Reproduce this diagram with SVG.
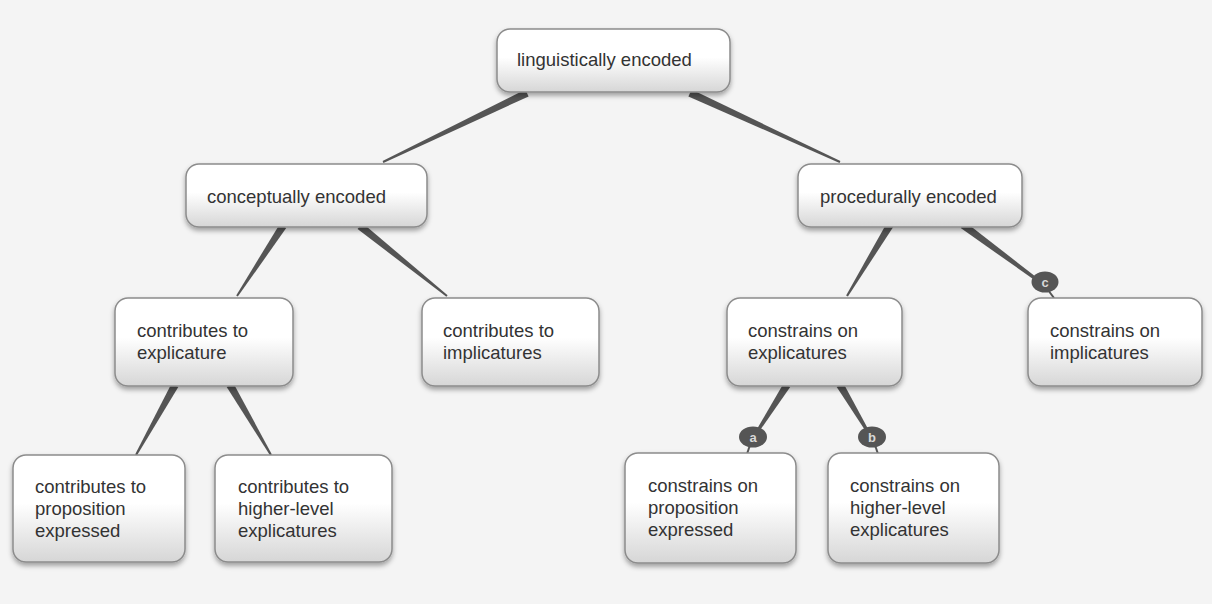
<svg xmlns="http://www.w3.org/2000/svg" width="1212" height="604" viewBox="0 0 1212 604">
<defs>
<linearGradient id="boxfill" x1="0" y1="0" x2="0" y2="1">
<stop offset="0" stop-color="#ffffff"/>
<stop offset="0.45" stop-color="#ffffff"/>
<stop offset="1" stop-color="#d6d6d6"/>
</linearGradient>
<filter id="shadow" x="-10%" y="-10%" width="120%" height="140%">
<feDropShadow dx="0" dy="3" stdDeviation="2.5" flood-color="#000" flood-opacity="0.35"/>
</filter>
</defs>
<style>
.box{fill:url(#boxfill);stroke:#8c8c8c;stroke-width:1.5;filter:url(#shadow)}
.lbl{font-family:"Liberation Sans",Arial,sans-serif;font-size:18.5px;fill:#333}
.wedge{fill:#555}
.bub{fill:#555}
.tail{stroke:#555;stroke-width:2;fill:none}
.bl{font-family:"Liberation Sans",Arial,sans-serif;font-size:13px;font-weight:bold;fill:#d8d8d8;text-anchor:middle}
</style>
<rect x="0" y="0" width="1212" height="604" fill="#f4f4f4"/>
<g id="connectors">
<polygon class="wedge" points="528.6,96.4 383.4,162.9 382.6,161.1 525.4,89.6"/>
<polygon class="wedge" points="688.4,96.5 839.6,162.9 840.4,161.1 691.6,89.5"/>
<polygon class="wedge" points="286.2,228.1 237.8,296.6 236.2,295.4 279.8,223.9"/>
<polygon class="wedge" points="357.6,229.0 446.4,296.8 447.6,295.2 362.4,223.0"/>
<polygon class="wedge" points="893.2,227.0 847.9,296.5 846.1,295.5 886.8,223.0"/>
<polygon class="wedge" points="960.7,228.1 1039.1,283.2 1040.9,280.8 965.3,221.9"/>
<polygon class="wedge" points="178.3,386.9 136.9,455.5 135.1,454.5 171.7,383.2"/>
<polygon class="wedge" points="226.7,386.9 270.1,455.5 271.9,454.5 233.3,383.1"/>
<polygon class="wedge" points="790.2,387.0 758.3,432.8 755.7,431.2 783.8,383.0"/>
<polygon class="wedge" points="836.7,387.0 866.7,432.8 869.3,431.2 843.3,383.0"/>
<g id="label-a">
<path class="tail" d="M750,445 L747,454"/>
<ellipse class="bub" cx="753" cy="437" rx="14" ry="10.5"/>
<text class="bl" x="753" y="441.5">a</text>
</g>
<g id="label-b">
<path class="tail" d="M875,445 L878,454"/>
<ellipse class="bub" cx="872" cy="437" rx="14" ry="10.5"/>
<text class="bl" x="872" y="441.5">b</text>
</g>
<g id="label-c">
<path class="tail" d="M1048,290 L1054,298"/>
<ellipse class="bub" cx="1045" cy="282" rx="13.5" ry="10.5"/>
<text class="bl" x="1045" y="286.5">c</text>
</g>
</g>
<g id="n-linguistically">
<rect class="box" x="497" y="29" width="233" height="63" rx="13"/>
<text class="lbl" x="517" y="66">linguistically encoded</text>
</g>
<g id="n-conceptually">
<rect class="box" x="186" y="164" width="241" height="63" rx="13"/>
<text class="lbl" x="207" y="203">conceptually encoded</text>
</g>
<g id="n-procedurally">
<rect class="box" x="798" y="164" width="224" height="63" rx="13"/>
<text class="lbl" x="820" y="203">procedurally encoded</text>
</g>
<g id="n-contrib-explicature">
<rect class="box" x="115" y="298" width="178" height="88" rx="13"/>
<text class="lbl" x="137" y="337">contributes to</text>
<text class="lbl" x="137" y="359">explicature</text>
</g>
<g id="n-contrib-implicatures">
<rect class="box" x="422" y="298" width="177" height="88" rx="13"/>
<text class="lbl" x="443" y="337">contributes to</text>
<text class="lbl" x="443" y="359">implicatures</text>
</g>
<g id="n-constr-explicatures">
<rect class="box" x="727" y="298" width="175" height="88" rx="13"/>
<text class="lbl" x="748" y="337">constrains on</text>
<text class="lbl" x="748" y="359">explicatures</text>
</g>
<g id="n-constr-implicatures">
<rect class="box" x="1028" y="298" width="174" height="88" rx="13"/>
<text class="lbl" x="1050" y="337">constrains on</text>
<text class="lbl" x="1050" y="359">implicatures</text>
</g>
<g id="n-contrib-proposition">
<rect class="box" x="13" y="455" width="172" height="107" rx="13"/>
<text class="lbl" x="35" y="493">contributes to</text>
<text class="lbl" x="35" y="515">proposition</text>
<text class="lbl" x="35" y="537">expressed</text>
</g>
<g id="n-contrib-higher">
<rect class="box" x="215" y="455" width="177" height="107" rx="13"/>
<text class="lbl" x="238" y="493">contributes to</text>
<text class="lbl" x="238" y="515">higher-level</text>
<text class="lbl" x="238" y="537">explicatures</text>
</g>
<g id="n-constr-proposition">
<rect class="box" x="625" y="453" width="171" height="110" rx="13"/>
<text class="lbl" x="648" y="492">constrains on</text>
<text class="lbl" x="648" y="514">proposition</text>
<text class="lbl" x="648" y="536">expressed</text>
</g>
<g id="n-constr-higher">
<rect class="box" x="828" y="453" width="171" height="110" rx="13"/>
<text class="lbl" x="850" y="492">constrains on</text>
<text class="lbl" x="850" y="514">higher-level</text>
<text class="lbl" x="850" y="536">explicatures</text>
</g>
</svg>
